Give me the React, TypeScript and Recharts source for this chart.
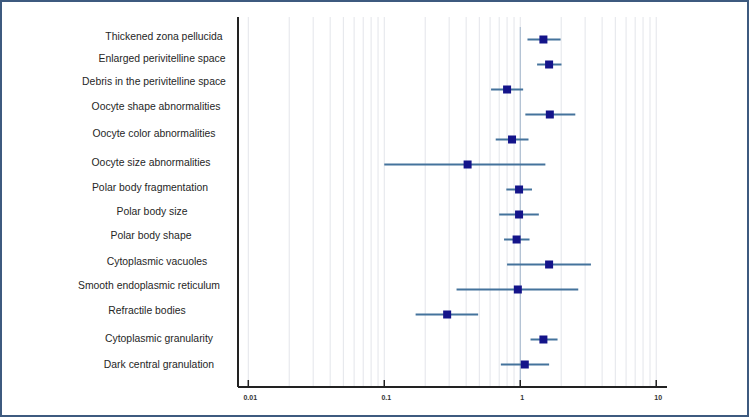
import {
  ScatterChart,
  Scatter,
  XAxis,
  YAxis,
  ErrorBar,
  ReferenceLine,
} from "recharts";

const factors = [
  "Thickened zona pellucida",
  "Enlarged perivitelline space",
  "Debris in the perivitelline space",
  "Oocyte shape abnormalities",
  "Oocyte color abnormalities",
  "Oocyte size abnormalities",
  "Polar body fragmentation",
  "Polar body size",
  "Polar body shape",
  "Cytoplasmic vacuoles",
  "Smooth endoplasmic reticulum",
  "Refractile bodies",
  "Cytoplasmic granularity",
  "Dark central granulation",
];

// odds ratio with lower / upper 95% CI
const oddsRatio = [1.48, 1.63, 0.8, 1.65, 0.87, 0.41, 0.98, 0.98, 0.94, 1.63, 0.96, 0.29, 1.48, 1.08];
const ciLower = [1.13, 1.33, 0.61, 1.09, 0.66, 0.1, 0.79, 0.7, 0.76, 0.8, 0.34, 0.17, 1.19, 0.72];
const ciUpper = [1.98, 2.01, 1.05, 2.54, 1.15, 1.53, 1.22, 1.37, 1.17, 3.31, 2.67, 0.49, 1.88, 1.63];

const xTicks = [0.01, 0.1, 1, 10];
const xTickLabels = ["0.01", "0.1", "1", "10"];

// light log grid: 1..9 in every decade
const gridValues = [0.01, 0.1, 1].flatMap((d) =>
  [1, 2, 3, 4, 5, 6, 7, 8, 9].map((m) => +(m * d).toPrecision(2))
).concat([10]);

// small nudges for the row labels [dx, dy]
const labelNudge = [
  [9, -3], [7, -6], [-1, -8], [1, -8], [-1, -6], [-4, -2], [-5, -2],
  [-3, -3], [-4, -4], [2, -3], [-6, -4], [-8, -4], [4, -1], [4, 0],
];

const rows = factors.map((name, i) => ({
  row: i,
  name,
  or: oddsRatio[i],
  err: [oddsRatio[i] - ciLower[i], ciUpper[i] - oddsRatio[i]],
}));

const LABEL_CX = 155;

function RowLabel(props: any) {
  const i = props.payload.value as number;
  const [dx, dy] = labelNudge[i] || [0, 0];
  return (
    <text
      x={LABEL_CX + dx}
      y={props.y + dy}
      textAnchor="middle"
      dominantBaseline="central"
      fontFamily="'Liberation Sans', Arial, sans-serif"
      fontSize={10.4}
      fill="#262626"
    >
      {factors[i]}
    </text>
  );
}

function XTick(props: any) {
  const idx = xTicks.indexOf(props.payload.value);
  return (
    <g>
      <line x1={props.x} x2={props.x} y1={387} y2={380} stroke="#222" strokeWidth={1.5} />
      <text
        x={props.x + 2}
        y={400}
        textAnchor="middle"
        fontFamily="'Liberation Sans', Arial, sans-serif"
        fontSize={7}
        fontWeight="bold"
        fill="#333"
      >
        {xTickLabels[idx]}
      </text>
    </g>
  );
}

function Marker(props: any) {
  return <rect x={props.cx - 4} y={props.cy - 4} width={8} height={8} fill="#14148a" />;
}

export default function App() {
  return (
    <div style={{ position: "absolute", left: 0, top: 0, width: 749, height: 418, background: "#fff" }}>
      <div
        style={{
          position: "absolute",
          left: 0,
          top: 0,
          width: 749,
          height: 417,
          boxSizing: "border-box",
          border: "2px solid #3d5a7f",
        }}
      />
      <div style={{ position: "absolute", left: 0, top: 0 }}>
        <ScatterChart width={749} height={418} margin={{ top: 17, right: 82, bottom: 0, left: 8 }}>
          <XAxis
            type="number"
            dataKey="or"
            scale="log"
            domain={[0.0084, 12]}
            allowDataOverflow
            ticks={xTicks}
            tickSize={0}
            tickLine={false}
            tick={<XTick />}
            height={31}
            axisLine={{ stroke: "#222", strokeWidth: 2 }}
          />
          <YAxis
            type="number"
            dataKey="row"
            reversed
            domain={[-0.9, 13.9]}
            ticks={factors.map((_, i) => i)}
            interval={0}
            width={230}
            tickLine={false}
            tick={<RowLabel />}
            axisLine={{ stroke: "#222", strokeWidth: 2 }}
          />
          {gridValues.map((v) => (
            <ReferenceLine key={v} x={v} stroke="#e3e5ea" strokeWidth={1} />
          ))}
          <ReferenceLine
            segment={[
              { x: 1, y: -0.5 },
              { x: 1, y: 13.9 },
            ]}
            stroke="#a3b7cc"
            strokeWidth={1}
          />
          <Scatter data={rows} shape={<Marker />} isAnimationActive={false}>
            <ErrorBar dataKey="err" direction="x" width={0} stroke="#44739c" strokeWidth={2} />
          </Scatter>
        </ScatterChart>
      </div>
    </div>
  );
}
